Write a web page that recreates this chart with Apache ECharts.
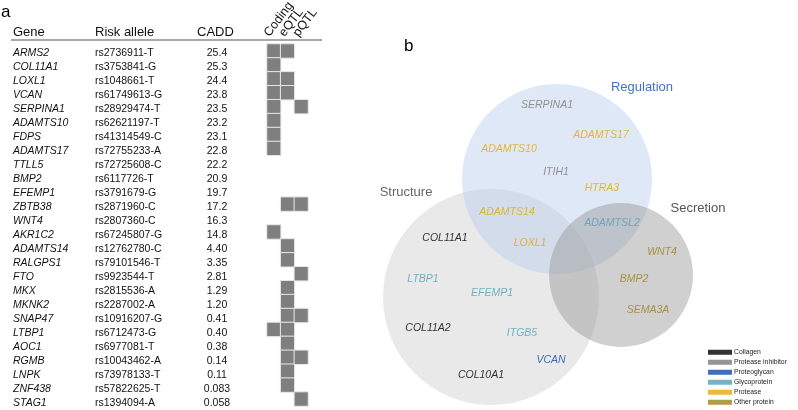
<!DOCTYPE html>
<html><head><meta charset="utf-8">
<script src="https://cdn.jsdelivr.net/npm/echarts@6/dist/echarts.min.js"></script>
<style>html,body{margin:0;padding:0;background:#fff}#c{width:798px;height:410px}</style>
</head><body><div id="c"></div>
<script>
// ---- Panel a data ----
const genes = ['ARMS2','COL11A1','LOXL1','VCAN','SERPINA1','ADAMTS10','FDPS','ADAMTS17','TTLL5','BMP2','EFEMP1','ZBTB38','WNT4','AKR1C2','ADAMTS14','RALGPS1','FTO','MKX','MKNK2','SNAP47','LTBP1','AOC1','RGMB','LNPK','ZNF438','STAG1'];
const alleles = ['rs2736911-T','rs3753841-G','rs1048661-T','rs61749613-G','rs28929474-T','rs62621197-T','rs41314549-C','rs72755233-A','rs72725608-C','rs6117726-T','rs3791679-G','rs2871960-C','rs2807360-C','rs67245807-G','rs12762780-C','rs79101546-T','rs9923544-T','rs2815536-A','rs2287002-A','rs10916207-G','rs6712473-G','rs6977081-T','rs10043462-A','rs73978133-T','rs57822625-T','rs1394094-A'];
const cadd = ['25.4','25.3','24.4','23.8','23.5','23.2','23.1','22.8','22.2','20.9','19.7','17.2','16.3','14.8','4.40','3.35','2.81','1.29','1.20','0.41','0.40','0.38','0.14','0.11','0.083','0.058'];
const annotCols = ['Coding','eQTL','pQTL'];
const coding = [1,1,1,1,1,1,1,1,0,0,0,0,0,1,0,0,0,0,0,0,1,0,0,0,0,0];
const eqtl   = [1,0,1,1,0,0,0,0,0,0,0,1,0,0,1,1,0,1,1,1,1,1,1,1,1,0];
const pqtl   = [0,0,0,0,1,0,0,0,0,0,0,1,0,0,0,0,1,0,0,1,0,0,1,0,0,1];

// ---- Panel b data ----
const setNames = ['Structure','Regulation','Secretion'];
const setX = [111, 177, 241];
const setY = [237, 119, 215];
const setR = [108, 95, 72];
const categories = ['Collagen','Protease inhibitor','Proteoglycan','Glycoprotein','Protease','Other protein'];
const vennGenes = ['SERPINA1','ADAMTS17','ADAMTS10','ITIH1','HTRA3','ADAMTS14','ADAMTSL2','COL11A1','LOXL1','WNT4','LTBP1','BMP2','EFEMP1','SEMA3A','COL11A2','ITGB5','VCAN','COL10A1'];
const vennGeneCat = [1,4,4,1,4,4,3,0,4,5,3,5,3,5,0,3,2,0];
const vennGeneX = [167,221,129,176,222,127,232,65,150,282,43,254,112,268,48,142,171,101];
const vennGeneY = [45,75,89,112,128,152,163,178,183,192,219,219,233,250,268,273,300,315];

const catColors = ['#000000','#7a7a7a','#1248ad','#55a0b6','#e3ab00','#9c821c'];
const setFill = ['#e9e9e9','rgba(185,205,235,0.45)','rgba(150,150,150,0.45)'];
const FONT = 'Liberation Sans, Arial, sans-serif';

const heatData = [];
[coding, eqtl, pqtl].forEach((arr, ci) => arr.forEach((v, ri) => { if (v) heatData.push([ci, ri, 1]); }));

const chart = echarts.init(document.getElementById('c'), null, {renderer:'canvas'});

const labelSeries = categories.map((cat, k) => ({
  name: cat, type: 'scatter', xAxisIndex: 2, yAxisIndex: 4,
  symbolSize: 0, color: catColors[k], itemStyle:{color: catColors[k]},
  label: {show:true, position:'inside', formatter: p => p.data[2], color: catColors[k], fontStyle:'italic', fontSize:10.5, fontFamily: FONT},
  data: vennGenes.map((g, i) => vennGeneCat[i] === k ? [vennGeneX[i], vennGeneY[i], g] : null).filter(d => d),
  z: 5, silent: true
}));

const textAxis = (data, margin, align, extra) => ({
  gridIndex:1, type:'category', data, inverse:true, position:'left', offset:0,
  axisLine:{show:false}, axisTick:{show:false}, splitLine:{show:false},
  axisLabel: Object.assign({interval:0, align, margin, fontSize:10.5, color:'#111', fontFamily:FONT}, extra || {})
});

const option = {
  backgroundColor: '#fff',
  animation: false,
  textStyle: {fontFamily: FONT},
  grid: [
    {left: 267, top: 44, width: 41, height: 362},
    {left: 267, top: 46, width: 41, height: 366},
    {left: 380, top: 60, width: 340, height: 350}
  ],
  xAxis: [
    {gridIndex:0, type:'category', data: annotCols, show:false},
    {gridIndex:1, type:'category', data: ['x'], show:false},
    {gridIndex:2, type:'value', min:0, max:340, show:false}
  ],
  yAxis: [
    {gridIndex:0, type:'category', data: genes, inverse:true, show:false},
    textAxis(genes, 254, 'left', {fontStyle:'italic'}),
    textAxis(alleles, 172, 'left'),
    textAxis(cadd, 50, 'center'),
    {gridIndex:2, type:'value', min:0, max:350, inverse:true, show:false}
  ],
  visualMap: {show:false, seriesIndex:0, min:0, max:1, inRange:{color:['#7f7f7f','#7f7f7f']}},
  legend: {
    data: categories, orient:'vertical', left: 708, top: 348, padding: 0, icon:'rect',
    itemWidth: 24, itemHeight: 5, itemGap: 1.5,
    textStyle: {fontSize: 6.8, lineHeight: 8.5, color:'#222', fontFamily: FONT, padding:[0,0,0,-3]},
    selectedMode: false
  },
  series: [
    {type:'heatmap', xAxisIndex:0, yAxisIndex:0, data: heatData,
      itemStyle:{borderColor:'#e8e8e8', borderWidth:1}, silent:true},
    {type:'custom', xAxisIndex:2, yAxisIndex:4, silent:true, z:1,
      data: setNames.map((n, i) => [setX[i], setY[i], setR[i], i]),
      renderItem: (params, api) => {
        const c = api.coord([api.value(0), api.value(1)]);
        const s = api.size([api.value(2), 0]);
        return {type:'circle', shape:{cx:c[0], cy:c[1], r:s[0]}, style:{fill: setFill[api.value(3)]}};
      }},
    ...labelSeries
  ],
  graphic: [
    {type:'text', x:1, y:4, style:{text:'a', fontSize:17, fill:'#000', fontFamily:FONT}},
    {type:'text', x:404, y:38, style:{text:'b', fontSize:17, fill:'#000', fontFamily:FONT}},
    {type:'text', x:13, y:26, style:{text:'Gene', fontSize:13, fill:'#111', fontFamily:FONT}},
    {type:'text', x:95, y:26, style:{text:'Risk allele', fontSize:13, fill:'#111', fontFamily:FONT}},
    {type:'text', x:197, y:26, style:{text:'CADD', fontSize:13, fill:'#111', fontFamily:FONT}},
    {type:'text', x:272, y:39, rotation: 53*Math.PI/180, style:{text:'Coding', fontSize:12.5, fill:'#111', fontFamily:FONT, textVerticalAlign:'bottom'}},
    {type:'text', x:287, y:39, rotation: 53*Math.PI/180, style:{text:'eQTL', fontSize:12.5, fill:'#111', fontFamily:FONT, textVerticalAlign:'bottom'}},
    {type:'text', x:301, y:39, rotation: 53*Math.PI/180, style:{text:'pQTL', fontSize:12.5, fill:'#111', fontFamily:FONT, textVerticalAlign:'bottom'}},
    {type:'line', shape:{x1:11, y1:40, x2:322, y2:40}, style:{stroke:'#555', lineWidth:1.2}},
    {type:'text', x:642, y:87, style:{text:'Regulation', fontSize:13, fill:'#4472c4', fontFamily:FONT, textAlign:'center', textVerticalAlign:'middle'}},
    {type:'text', x:406, y:192, style:{text:'Structure', fontSize:13, fill:'#666', fontFamily:FONT, textAlign:'center', textVerticalAlign:'middle'}},
    {type:'text', x:698, y:208, style:{text:'Secretion', fontSize:13, fill:'#555', fontFamily:FONT, textAlign:'center', textVerticalAlign:'middle'}}
  ]
};
chart.setOption(option);
</script></body></html>
